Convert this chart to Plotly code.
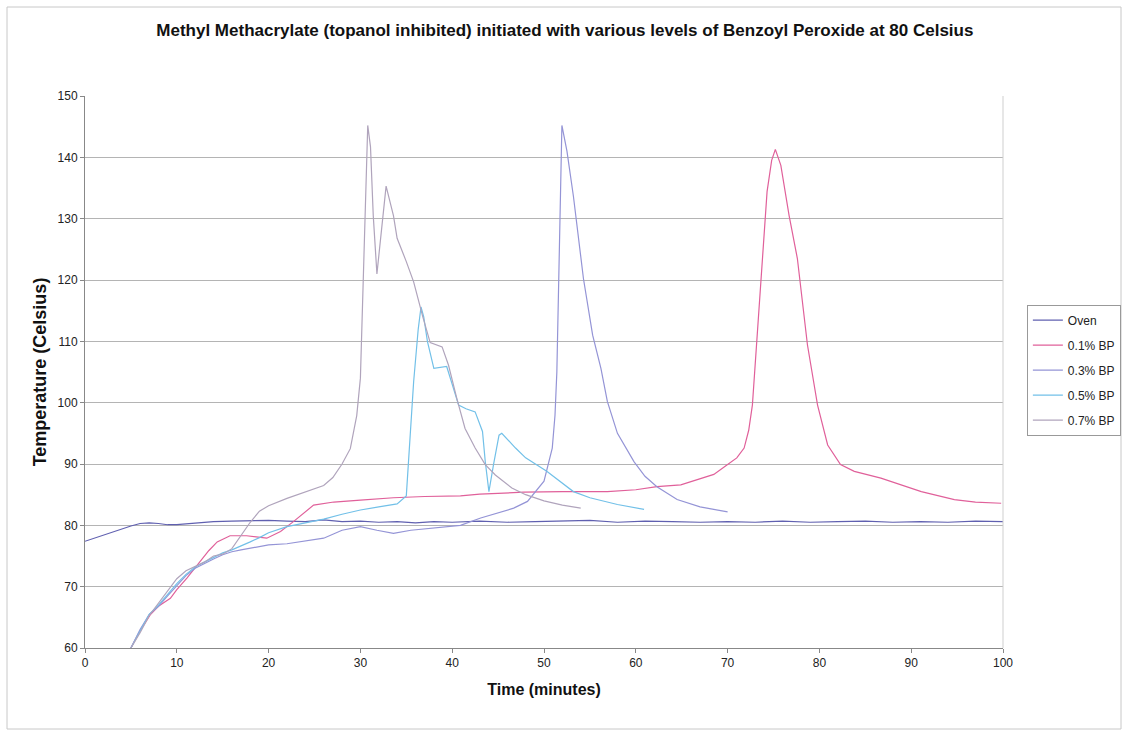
import plotly.graph_objects as go

# ---------------- data ----------------
oven_t = [0, 1, 2, 3, 4, 5, 6, 7, 8, 9, 10, 12, 14, 16, 18, 20, 22, 24, 26, 28, 30, 32, 34, 36, 38, 40,
          43, 46, 49, 52, 55, 58, 61, 64, 67, 70, 73, 76, 79, 82, 85, 88, 91, 94, 97, 100]
oven_T = [77.4, 77.9, 78.5, 79.0, 79.5, 79.9, 80.3, 80.4, 80.3, 80.1, 80.1, 80.4, 80.6, 80.7, 80.8, 80.8,
          80.7, 80.6, 80.9, 80.6, 80.7, 80.5, 80.6, 80.4, 80.6, 80.5, 80.7, 80.5, 80.6, 80.7, 80.8, 80.5,
          80.7, 80.6, 80.5, 80.6, 80.5, 80.7, 80.5, 80.6, 80.7, 80.5, 80.6, 80.5, 80.7, 80.6]

bp01_t = [5, 6, 7.1, 8, 9.3, 10, 11.1, 12.5, 13.5, 14.4, 15.8, 17.6, 19.8, 21.3, 22.7, 24.9, 27.1, 30,
          33.6, 37, 40.9, 43, 47.8, 52, 56.9, 60, 62.3, 64.9, 66.7, 68.5, 70, 71, 71.8, 72.3, 72.7, 73.2,
          73.6, 74.3, 74.8, 75.2, 75.8, 76.7, 77.6, 78.7, 79.8, 80.9, 82.3, 83.8, 86.7, 89, 91.1, 94.7,
          97, 99.8]
bp01_T = [60, 62.8, 65.4, 66.8, 68.1, 69.5, 71.4, 74.1, 75.9, 77.3, 78.3, 78.3, 77.9, 79.0, 80.6, 83.3,
          83.8, 84.1, 84.5, 84.7, 84.8, 85.1, 85.4, 85.5, 85.5, 85.8, 86.3, 86.6, 87.4, 88.3, 89.9, 91.0,
          92.6, 95.5, 99.6, 110, 120, 134.4, 139.5, 141.3, 138.7, 130.5, 123.5, 109.4, 99.6, 93.1, 89.9,
          88.8, 87.7, 86.6, 85.5, 84.2, 83.8, 83.6]

bp03_t = [5, 6, 7, 8, 9, 10, 11, 12, 13, 14, 15, 16, 17, 18, 19, 20, 22, 24, 26, 28, 30, 31.8, 33.6,
          35.5, 38, 40.9, 43.1, 46.7, 48.2, 50, 50.9, 51.2, 51.4, 51.6, 51.8, 51.95, 52.5, 53.2, 54.3,
          55.3, 56.2, 56.9, 58, 59.8, 61, 62.3, 64.5, 67, 70]
bp03_T = [60, 63, 65.5, 66.8, 68.5, 70.2, 71.8, 73, 73.8, 74.5, 75.2, 75.7, 76, 76.3, 76.5, 76.8, 77,
          77.4, 77.9, 79.2, 79.8, 79.2, 78.7, 79.2, 79.6, 80, 81.2, 82.8, 83.9, 87.2, 92.6, 98, 105,
          120, 140, 145.2, 141, 133.7, 120.2, 111, 105.6, 100.2, 95, 90.4, 88, 86.3, 84.2, 83, 82.2]

bp05_t = [5, 6, 7, 8, 9, 10, 11, 12, 13, 14, 15, 16, 17, 18, 19, 20, 22, 24, 26, 28, 30, 32, 34, 35,
          35.4, 35.8, 36.3, 36.6, 36.9, 37.3, 38, 39.4, 40.7, 41.5, 42.5, 43.3, 43.6, 44, 44.5, 45.1,
          45.4, 46, 46.9, 48, 50.3, 53.2, 55, 58, 60.9]
bp05_T = [60, 62.8, 65.5, 67, 68.8, 70.5, 72, 73.2, 74, 74.8, 75.5, 76, 76.6, 77.3, 78, 78.8, 79.8,
          80.4, 81, 81.8, 82.5, 83, 83.5, 84.8, 95, 103.4, 112, 115.6, 114, 110, 105.6, 105.9, 99.6,
          99, 98.5, 95.3, 90.4, 85.5, 89.9, 94.7, 95, 94, 92.6, 91, 88.8, 85.5, 84.5, 83.4, 82.6]

bp07_t = [5, 6, 7, 8, 9, 10, 11, 12, 13, 14, 15, 16, 17, 18, 19, 20, 22, 24, 26, 27, 28, 28.9, 29.6,
          30, 30.3, 30.5, 30.8, 31.1, 31.4, 31.8, 32.3, 32.8, 33.6, 34, 35, 35.8, 36.8, 37.6, 38.9, 39.6,
          40.5, 41.4, 42.5, 43.6, 44.7, 46.5, 48, 50, 52, 54]
bp07_T = [60, 62.5, 65.3, 67.3, 69.5, 71.3, 72.6, 73.3, 74, 75, 75.3, 76.2, 78.3, 80.5, 82.3, 83.2,
          84.4, 85.5, 86.5, 87.8, 90, 92.5, 97.9, 104, 120, 132, 145.2, 141.7, 130.5, 121, 127.8,
          135.3, 130.5, 126.8, 123, 119.7, 114, 109.8, 109.1, 106.1, 100.7, 95.8, 92.6, 89.9, 88.2,
          86.1, 85, 84, 83.3, 82.8]

series_names = ["Oven", "0.1% BP", "0.3% BP", "0.5% BP", "0.7% BP"]
series_t = [oven_t, bp01_t, bp03_t, bp05_t, bp07_t]
series_T = [oven_T, bp01_T, bp03_T, bp05_T, bp07_T]
series_colors = ["#6060b0", "#e0609a", "#9494d6", "#72c0e8", "#b0a4bc"]

x_ticks = [0, 10, 20, 30, 40, 50, 60, 70, 80, 90, 100]
y_ticks = [60, 70, 80, 90, 100, 110, 120, 130, 140, 150]

title_text = "Methyl Methacrylate (topanol inhibited) initiated with various levels of Benzoyl Peroxide at 80 Celsius"
x_title = "Time (minutes)"
y_title = "Temperature (Celsius)"

# ---------------- figure ----------------
FONT = "Arial, Liberation Sans, sans-serif"
fig = go.Figure()
for i, (name, t, T, c) in enumerate(zip(series_names, series_t, series_T, series_colors)):
    fig.add_trace(go.Scatter(
        x=t, y=T, mode="lines", name=name,
        line=dict(color=c, width=1.2),
        legendgroup=f"g{i}",
    ))

fig.update_layout(
    width=1123, height=731,
    margin=dict(l=85, r=120, t=96, b=83, pad=0, autoexpand=False),
    paper_bgcolor="white", plot_bgcolor="white",
    font=dict(family=FONT, size=12, color="#222"),
    title=dict(text=f"<b>{title_text}</b>", x=0.503, xanchor="center", xref="container",
               y=1 - 30 / 731, yanchor="middle", font=dict(size=17, color="#111")),
    showlegend=True,
    legend=dict(
        x=1.026, y=0.622, xanchor="left", yanchor="top",
        bordercolor="#999", borderwidth=1, bgcolor="white",
        font=dict(size=12, color="#222"),
        itemwidth=30, traceorder="grouped", tracegroupgap=6,
    ),
    xaxis=dict(
        range=[0, 100], tickvals=x_ticks, ticktext=[str(v) for v in x_ticks],
        showgrid=False, zeroline=False, showline=True, linecolor="#888", linewidth=1,
        mirror=False, ticks="outside", ticklen=4, tickcolor="#888",
        tickfont=dict(size=12, color="#222"),
        title=dict(text=f"<b>{x_title}</b>", font=dict(size=16, color="#111"), standoff=14),
    ),
    yaxis=dict(
        range=[60, 150], tickvals=y_ticks, ticktext=[str(v) for v in y_ticks],
        showgrid=True, gridcolor="#b4b4b4", gridwidth=1,
        zeroline=False, showline=True, linecolor="#888", linewidth=1,
        ticks="outside", ticklen=4, tickcolor="#888",
        tickfont=dict(size=12, color="#222"),
        title=dict(text=f"<b>{y_title}</b>", font=dict(size=18, color="#111"), standoff=6),
    ),
    shapes=[
        # right edge of plot area
        dict(type="line", xref="paper", yref="paper", x0=1, x1=1, y0=0, y1=1,
             line=dict(color="#cfcfcf", width=1)),
        # outer chart border
        dict(type="rect", xref="paper", yref="paper",
             x0=(7 - 85) / 918, x1=(1121 - 85) / 918,
             y0=(648 - 729) / 552, y1=(648 - 7) / 552,
             line=dict(color="#c8c8c8", width=1), layer="below"),
    ],
)

fig.write_html("out.html")
